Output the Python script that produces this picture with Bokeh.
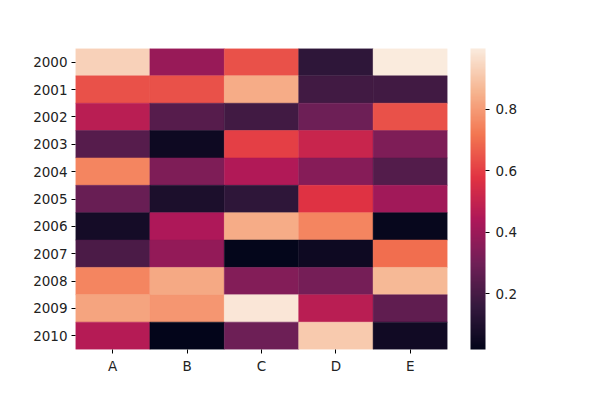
from bokeh.plotting import figure
from bokeh.models import ColumnDataSource, LinearColorMapper, ColorBar, FixedTicker, FactorRange
from bokeh.transform import transform
from bokeh.embed import file_html
from bokeh.resources import INLINE

columns = ["A", "B", "C", "D", "E"]
years = ["2000", "2001", "2002", "2003", "2004", "2005", "2006", "2007", "2008", "2009", "2010"]
values = [
    [0.93, 0.39, 0.64, 0.14, 0.998],
    [0.64, 0.64, 0.84, 0.19, 0.19],
    [0.47, 0.24, 0.19, 0.29, 0.64],
    [0.24, 0.05, 0.60, 0.51, 0.33],
    [0.75, 0.33, 0.45, 0.35, 0.23],
    [0.28, 0.09, 0.14, 0.57, 0.41],
    [0.07, 0.44, 0.84, 0.75, 0.03],
    [0.21, 0.38, 0.024, 0.05, 0.70],
    [0.75, 0.83, 0.34, 0.31, 0.87],
    [0.82, 0.79, 0.985, 0.47, 0.26],
    [0.46, 0.018, 0.29, 0.91, 0.06],
]
colorbar_ticks = [0.2, 0.4, 0.6, 0.8]

# approximate seaborn "rocket" colormap anchors
anchors = [
    (0.0, "#03051a"), (1/7, "#35193e"), (2/7, "#701f57"), (3/7, "#ad1759"),
    (4/7, "#e13342"), (5/7, "#f37651"), (6/7, "#f6b48f"), (1.0, "#faebdd"),
]

def hex2rgb(h):
    return tuple(int(h[i:i + 2], 16) for i in (1, 3, 5))

palette = []
for i in range(256):
    t = i / 255
    for k in range(len(anchors) - 1):
        t0, c0 = anchors[k]
        t1, c1 = anchors[k + 1]
        if t0 <= t <= t1:
            f = (t - t0) / (t1 - t0)
            a, b = hex2rgb(c0), hex2rgb(c1)
            rgb = [round(a[j] + (b[j] - a[j]) * f) for j in range(3)]
            palette.append("#%02x%02x%02x" % tuple(rgb))
            break

xs, ys, vs = [], [], []
for r, yr in enumerate(years):
    for c, col in enumerate(columns):
        xs.append(col)
        ys.append(yr)
        vs.append(values[r][c])
source = ColumnDataSource(dict(x=xs, y=ys, v=vs))

flat = [v for row in values for v in row]
mapper = LinearColorMapper(palette=palette, low=min(flat), high=max(flat))

p = figure(x_range=FactorRange(factors=columns), y_range=FactorRange(factors=list(reversed(years))),
           frame_width=372, frame_height=301, min_border_left=75, min_border_top=48,
           min_border_bottom=40, min_border_right=10,
           output_backend="svg", toolbar_location=None)
p.rect(x="x", y="y", width=1, height=1, source=source,
       fill_color=transform("v", mapper), line_color=transform("v", mapper), line_width=0.5)

p.outline_line_color = None
p.grid.grid_line_color = None
for ax in (p.xaxis, p.yaxis):
    ax.axis_line_color = None
    ax.major_tick_in = 0
    ax.major_tick_out = 4
    ax.minor_tick_line_color = None
    ax.major_label_text_font = "DejaVu Sans"
    ax.major_label_text_font_size = "13.5px"
    ax.major_label_text_color = "#222222"
    ax.major_label_standoff = 4
p.x_range.range_padding = 0
p.y_range.range_padding = 0

cb = ColorBar(color_mapper=mapper, ticker=FixedTicker(ticks=colorbar_ticks), width=15, height=301,
              location=(23, 0), margin=0, padding=0, label_standoff=6,
              major_tick_in=0, major_tick_out=4, major_tick_line_color="black",
              bar_line_color=None, border_line_color=None,
              major_label_text_font="DejaVu Sans", major_label_text_font_size="13.5px",
              major_label_text_color="#222222")
p.add_layout(cb, "right")

open("out.html", "w").write(file_html(p, INLINE))
